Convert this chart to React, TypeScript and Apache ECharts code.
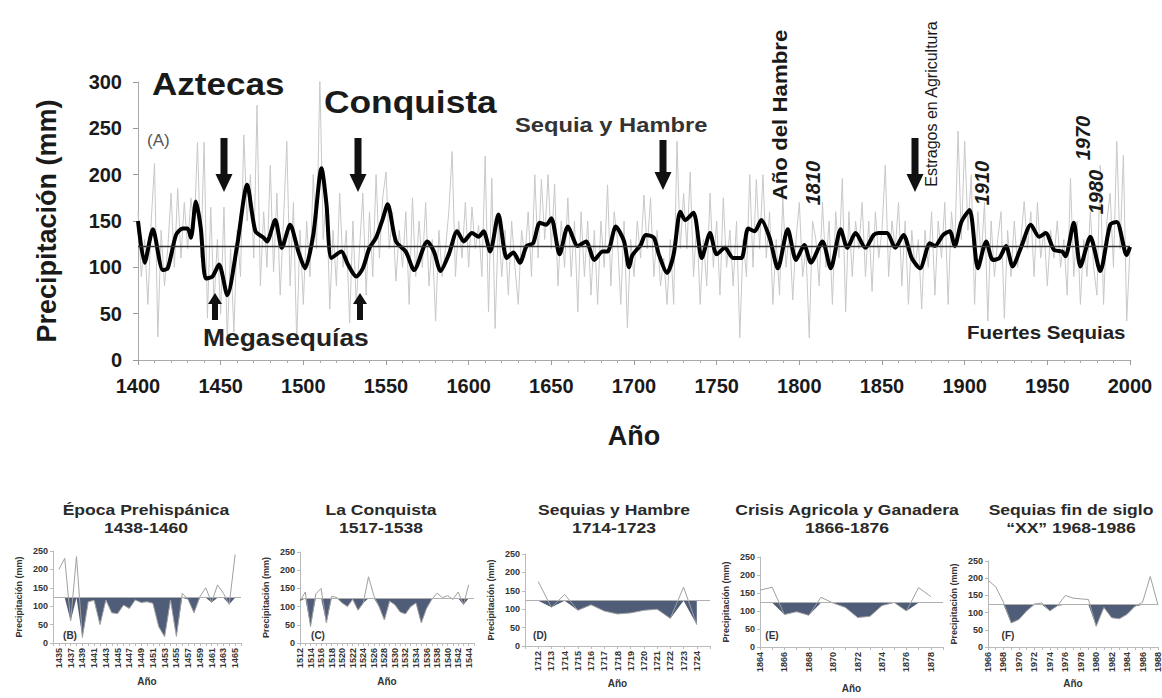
import React, { useEffect, useRef } from 'react';
import * as echarts from 'echarts';

const FONT = '"Liberation Sans", Arial, Helvetica, sans-serif';
const MEAN = 123;

// Main chart: annual series sampled every 2 years (1400..2000)
const GRAY_START = 1400;
const GRAY_STEP = 2;
const GRAY_VALUES = [
  160, 90, 130, 60, 150,
  212, 25, 140, 80, 120,
  180, 100, 185, 110, 170,
  120, 175, 140, 235, 110,
  235, 45, 165, 60, 130,
  50, 165, 20, 120, 30,
  140, 90, 243, 150, 200,
  110, 275, 80, 160, 100,
  210, 95, 180, 70, 150,
  236, 80, 170, 18, 140,
  60, 150, 90, 200, 120,
  305, 130, 180, 55, 140,
  80, 180, 100, 140, 40,
  150, 60, 120, 180, 70,
  160, 90, 200, 110, 175,
  203, 120, 160, 85, 140,
  100, 160, 60, 175, 90,
  150, 100, 170, 80, 130,
  42, 140, 90, 120, 160,
  225, 90, 150, 110, 170,
  100, 165, 120, 145, 90,
  220, 52, 196, 34, 150,
  90, 140, 70, 150, 100,
  60, 140, 110, 160, 90,
  200, 110, 195, 130, 200,
  120, 190, 80, 150, 100,
  175, 90, 150, 52, 160,
  90, 150, 70, 140, 60,
  150, 100, 189, 80, 160,
  130, 60, 150, 35, 130,
  90, 150, 110, 178, 120,
  175, 90, 140, 80, 110,
  60, 130, 60, 236, 120,
  180, 120, 203, 90, 150,
  60, 130, 80, 180, 100,
  150, 70, 175, 100, 140,
  80, 150, 24, 130, 90,
  200, 100, 195, 120, 200,
  110, 160, 60, 130, 70,
  175, 100, 140, 65, 130,
  170, 90, 120, 24, 150,
  130, 80, 170, 100, 150,
  60, 160, 110, 196, 52,
  160, 90, 150, 120, 170,
  90, 150, 74, 160, 110,
  140, 210, 90, 150, 120,
  170, 80, 150, 60, 140,
  100, 130, 55, 140, 100,
  160, 70, 150, 110, 170,
  60, 160, 120, 247, 130,
  236, 140, 200, 60, 160,
  110, 170, 42, 150, 90,
  130, 160, 45, 140, 90,
  150, 100, 130, 171, 120,
  160, 90, 170, 110, 140,
  80, 140, 110, 150, 100,
  130, 70, 196, 90, 150,
  60, 130, 90, 160, 100,
  70, 210, 60, 150, 180,
  100, 236, 120, 221, 42,
  120,
];

// Main chart: smoothed (black) curve
const SMOOTH_YEARS = [
  1400, 1404, 1409, 1415, 1418, 1423, 1427, 1430, 1432, 1435, 1438, 1441, 1445, 1449, 1454, 1460,
  1466, 1471, 1476, 1478, 1483, 1487, 1492, 1497, 1501, 1506, 1511, 1514, 1517, 1523, 1527, 1532,
  1536, 1540, 1544, 1548, 1551, 1556, 1562, 1567, 1575, 1579, 1583, 1588, 1593, 1597, 1602, 1606,
  1609, 1613, 1618, 1623, 1627, 1631, 1635, 1639, 1643, 1647, 1650, 1655, 1660, 1666, 1671, 1676,
  1681, 1684, 1689, 1694, 1697, 1699, 1704, 1707, 1712, 1715, 1720, 1724, 1728, 1731, 1736, 1741,
  1746, 1750, 1755, 1760, 1765, 1769, 1773, 1777, 1782, 1787, 1793, 1798, 1803, 1807, 1814, 1819,
  1825, 1829, 1834, 1840, 1845, 1848, 1853, 1858, 1863, 1868, 1873, 1879, 1882, 1887, 1891, 1894,
  1898, 1903, 1908, 1913, 1917, 1921, 1925, 1929, 1934, 1940, 1945, 1949, 1954, 1959, 1961, 1966,
  1970, 1976, 1982, 1988, 1992, 1998, 2000,
];
const SMOOTH_VALUES = [
  150, 105, 141, 97, 99, 135, 142, 142, 132, 171, 142, 88, 90, 103, 70, 124,
  189, 139, 132, 128, 151, 121, 146, 117, 99, 135, 207, 168, 110, 117, 103, 90,
  99, 121, 132, 152, 168, 128, 117, 97, 128, 117, 96, 114, 139, 128, 137, 133,
  139, 117, 157, 110, 116, 105, 123, 126, 148, 146, 153, 114, 144, 123, 128, 108,
  117, 117, 144, 128, 100, 113, 124, 135, 132, 114, 94, 114, 160, 151, 159, 110,
  137, 114, 121, 110, 110, 142, 139, 151, 132, 99, 141, 108, 124, 105, 128, 99,
  141, 121, 137, 121, 135, 137, 137, 121, 135, 110, 99, 126, 123, 135, 139, 123,
  149, 162, 99, 128, 108, 110, 123, 101, 121, 146, 133, 137, 119, 117, 112, 148,
  101, 133, 96, 146, 149, 113, 122,
];

// Small panels: yearly values
const B_START = 1435;
const B_VALUES = [200, 230, 60, 235, 15, 112, 116, 50, 117, 82, 80, 103, 94, 117, 110, 112, 108, 44, 17, 117, 18, 135, 118, 82, 126, 150, 110, 158, 135, 105, 240];
const C_START = 1512;
const C_VALUES = [115, 140, 45, 135, 150, 55, 128, 125, 110, 100, 120, 90, 110, 182, 130, 100, 63, 115, 105, 85, 80, 100, 110, 55, 95, 120, 137, 125, 130, 120, 140, 105, 160];
const D_START = 1712;
const D_VALUES = [175, 105, 140, 97, 112, 95, 87, 90, 97, 100, 75, 160, 58];
const E_START = 1864;
const E_VALUES = [158, 166, 90, 98, 88, 138, 122, 110, 82, 85, 115, 124, 100, 165, 140];
const F_START = 1966;
const F_VALUES = [194, 175, 130, 70, 80, 105, 125, 128, 105, 120, 150, 142, 140, 138, 60, 115, 85, 82, 95, 118, 130, 205, 122];

const PANEL_TITLES = [
  ['Época Prehispánica', '1438-1460'],
  ['La Conquista', '1517-1538'],
  ['Sequias y Hambre', '1714-1723'],
  ['Crisis Agricola y Ganadera', '1866-1876'],
  ['Sequias fin de siglo', '“XX” 1968-1986'],
];
const PANEL_TAGS = ['(B)', '(C)', '(D)', '(E)', '(F)'];

const PANELS = [
  { start: B_START, values: B_VALUES, min: 1434, max: 1466, lab0: 1435, lab1: 1465, step: 2, left: 53, top: 551, width: 188, height: 92, titleX: 146, tagX: 70, nameGap: 33 },
  { start: C_START, values: C_VALUES, min: 1512, max: 1545, lab0: 1512, lab1: 1544, step: 2, left: 300, top: 552, width: 174, height: 91, titleX: 381, tagX: 318, nameGap: 33 },
  { start: D_START, values: D_VALUES, min: 1711, max: 1725, lab0: 1712, lab1: 1724, step: 1, left: 525, top: 554, width: 185, height: 92, titleX: 614, tagX: 540, nameGap: 32 },
  { start: E_START, values: E_VALUES, min: 1864, max: 1879, lab0: 1864, lab1: 1878, step: 2, left: 760, top: 557, width: 183, height: 90, titleX: 847, tagX: 772, nameGap: 36 },
  { start: F_START, values: F_VALUES, min: 1966, max: 1988, lab0: 1966, lab1: 1988, step: 2, left: 988, top: 561, width: 170, height: 86, titleX: 1071, tagX: 1008, nameGap: 31 },
];

function downArrow(cx: number, y0: number, y1: number) {
  const sw = 3.5, hw = 8.5, hh = 18;
  return {
    type: 'polygon',
    silent: true,
    shape: { points: [[cx - sw, y0], [cx + sw, y0], [cx + sw, y1 - hh], [cx + hw, y1 - hh], [cx, y1], [cx - hw, y1 - hh], [cx - sw, y1 - hh]] },
    style: { fill: '#111' },
    z: 10,
  };
}
function upArrow(cx: number, y0: number, y1: number) {
  const sw = 3, hw = 7, hh = 11;
  return {
    type: 'polygon',
    silent: true,
    shape: { points: [[cx, y0], [cx + hw, y0 + hh], [cx + sw, y0 + hh], [cx + sw, y1], [cx - sw, y1], [cx - sw, y0 + hh], [cx - hw, y0 + hh]] },
    style: { fill: '#111' },
    z: 10,
  };
}
function txt(text: string, x: number, y: number, size: number, opts: any = {}) {
  return {
    type: 'text',
    x,
    y,
    rotation: opts.rotation || 0,
    scaleX: opts.sx || 1,
    silent: true,
    z: 10,
    style: {
      text,
      fontFamily: FONT,
      fontSize: size,
      fontWeight: opts.weight || 'bold',
      fontStyle: opts.italic ? 'italic' : 'normal',
      fill: opts.color || '#1a1a1a',
      align: opts.align || 'left',
      verticalAlign: 'middle',
    },
  };
}

export default function App() {
  const ref = useRef<HTMLDivElement>(null);
  useEffect(() => {
    document.body.style.margin = '0';
    if (!ref.current) return;
    const chart = echarts.init(ref.current, null, { renderer: 'svg' });

    const grayData = GRAY_VALUES.map((v, i) => [GRAY_START + GRAY_STEP * i, v]);
    const smoothData = SMOOTH_YEARS.map((y, i) => [y, SMOOTH_VALUES[i]]);

    const grids: any[] = [
      { left: 138, top: 82, width: 992, height: 278, outerBoundsMode: 'none' },
    ];
    const xAxes: any[] = [
      {
        type: 'value', gridIndex: 0, min: 1400, max: 2000, interval: 50,
        name: 'Año', nameLocation: 'middle', nameGap: 62,
        nameTextStyle: { fontFamily: FONT, fontSize: 27, fontWeight: 'bold', color: '#1a1a1a' },
        axisLine: { show: true, lineStyle: { color: '#aaa', width: 1 } },
        axisTick: { show: true, length: 5, lineStyle: { color: '#999' } },
        minorTick: { show: true, splitNumber: 5, length: 3, lineStyle: { color: '#aaa' } },
        splitLine: { show: false },
        axisLabel: { fontFamily: FONT, fontSize: 20, fontWeight: 'bold', color: '#1a1a1a', margin: 16, formatter: (v: number) => String(Math.round(v)) },
      },
    ];
    const yAxes: any[] = [
      {
        type: 'value', gridIndex: 0, min: 0, max: 300, interval: 50,
        name: 'Precipitación (mm)', nameLocation: 'middle', nameGap: 78, nameRotate: 90,
        nameTextStyle: { fontFamily: FONT, fontSize: 27, fontWeight: 'bold', color: '#1a1a1a' },
        axisLine: { show: true, lineStyle: { color: '#aaa', width: 1 } },
        axisTick: { show: true, length: 5, lineStyle: { color: '#999' } },
        splitLine: { show: false },
        axisLabel: { fontFamily: FONT, fontSize: 20, fontWeight: 'bold', color: '#1a1a1a', margin: 16 },
      },
    ];
    const series: any[] = [
      {
        type: 'line', xAxisIndex: 0, yAxisIndex: 0, data: grayData, symbol: 'none',
        lineStyle: { color: '#c8c8c8', width: 1 }, z: 1,
        markLine: {
          silent: true, symbol: 'none', label: { show: false },
          lineStyle: { color: '#333', width: 1.3, type: 'solid' },
          data: [{ yAxis: MEAN }],
        },
      },
      {
        type: 'line', xAxisIndex: 0, yAxisIndex: 0, data: smoothData, symbol: 'none', smooth: 0.25,
        lineStyle: { color: '#000', width: 4 }, z: 3,
      },
    ];

    const graphic: any[] = [];

    PANELS.forEach((p, i) => {
      const gi = i + 1;
      grids.push({ left: p.left, top: p.top, width: p.width, height: p.height, outerBoundsMode: 'none' });
      xAxes.push({
        type: 'value', gridIndex: gi, min: p.min, max: p.max, interval: 1,
        name: 'Año', nameLocation: 'middle', nameGap: p.nameGap,
        nameTextStyle: { fontFamily: FONT, fontSize: 10, fontWeight: 'bold', color: '#333' },
        axisLine: { show: true, lineStyle: { color: '#bbb', width: 1 } },
        axisTick: { show: true, length: 3, lineStyle: { color: '#bbb' } },
        splitLine: { show: false },
        axisLabel: {
          rotate: 90, fontFamily: FONT, fontSize: 9, fontWeight: 'bold', color: '#333', margin: 5,
          showMinLabel: true, showMaxLabel: true,
          formatter: (v: number) => {
            const r = Math.round(v);
            return r >= p.lab0 && r <= p.lab1 && (r - p.lab0) % p.step === 0 ? String(r) : '';
          },
        },
      });
      yAxes.push({
        type: 'value', gridIndex: gi, min: 0, max: 250, interval: 50,
        name: 'Precipitación (mm)', nameLocation: 'middle', nameGap: 30, nameRotate: 90,
        nameTextStyle: { fontFamily: FONT, fontSize: 9, fontWeight: 'bold', color: '#333' },
        axisLine: { show: true, lineStyle: { color: '#bbb', width: 1 } },
        axisTick: { show: true, length: 3, lineStyle: { color: '#bbb' } },
        splitLine: { show: false },
        axisLabel: { fontFamily: FONT, fontSize: 9, fontWeight: 'bold', color: '#333', margin: 5 },
      });
      const lineData = p.values.map((v, k) => [p.start + k, v]);
      const fillData = p.values.map((v, k) => [p.start + k, Math.min(v, MEAN)]);
      series.push({
        type: 'line', xAxisIndex: gi, yAxisIndex: gi, data: fillData, symbol: 'none',
        lineStyle: { width: 0, opacity: 0 },
        areaStyle: { color: '#4f5d78', opacity: 1, origin: MEAN }, z: 2,
      });
      series.push({
        type: 'line', xAxisIndex: gi, yAxisIndex: gi, data: lineData, symbol: 'none',
        lineStyle: { color: '#a0a0a0', width: 1 }, z: 3,
        markLine: {
          silent: true, symbol: 'none', label: { show: false },
          lineStyle: { color: '#b0b0b0', width: 1, type: 'solid' },
          data: [{ yAxis: MEAN }],
        },
      });
      graphic.push(txt(PANEL_TITLES[i][0], p.titleX, 509, 15, { align: 'center', color: '#2a2a2a', sx: 1.17 }));
      graphic.push(txt(PANEL_TITLES[i][1], p.titleX, 527, 15, { align: 'center', color: '#2a2a2a', sx: 1.17 }));
      graphic.push(txt(PANEL_TAGS[i], p.tagX, 635, 10, { align: 'center', color: '#333' }));
    });

    // Main chart annotations
    graphic.push(txt('Aztecas', 152, 84, 31, { sx: 1.13 }));
    graphic.push(txt('(A)', 147, 140, 17, { weight: 'normal', color: '#555' }));
    graphic.push(txt('Conquista', 324, 102, 31, { sx: 1.14 }));
    graphic.push(txt('Sequia y Hambre', 515, 125, 21, { color: '#333', sx: 1.13 }));
    graphic.push(txt('Megasequías', 203, 337, 24, { color: '#222', sx: 1.1 }));
    graphic.push(txt('Fuertes Sequias', 967, 332, 19, { color: '#222', sx: 1.08 }));
    graphic.push(txt('Año del Hambre', 780, 115, 21, { align: 'center', rotation: Math.PI / 2, sx: 1.06 }));
    graphic.push(txt('1810', 813, 183, 20, { align: 'center', rotation: Math.PI / 2, italic: true }));
    graphic.push(txt('Estragos en Agricultura', 931, 104, 16, { align: 'center', rotation: Math.PI / 2, weight: 'normal' }));
    graphic.push(txt('1910', 982, 183, 20, { align: 'center', rotation: Math.PI / 2, italic: true }));
    graphic.push(txt('1970', 1083, 138, 20, { align: 'center', rotation: Math.PI / 2, italic: true }));
    graphic.push(txt('1980', 1096, 192, 20, { align: 'center', rotation: Math.PI / 2, italic: true }));
    graphic.push(downArrow(224, 138, 192));
    graphic.push(downArrow(358, 138, 192));
    graphic.push(downArrow(663, 140, 190));
    graphic.push(downArrow(915, 138, 192));
    graphic.push(upArrow(215, 293, 320));
    graphic.push(upArrow(360, 293, 320));

    chart.setOption({
      animation: false,
      backgroundColor: '#ffffff',
      grid: grids,
      xAxis: xAxes,
      yAxis: yAxes,
      series,
      graphic,
    });
    return () => chart.dispose();
  }, []);
  return <div ref={ref} style={{ width: 1162, height: 698 }} />;
}
